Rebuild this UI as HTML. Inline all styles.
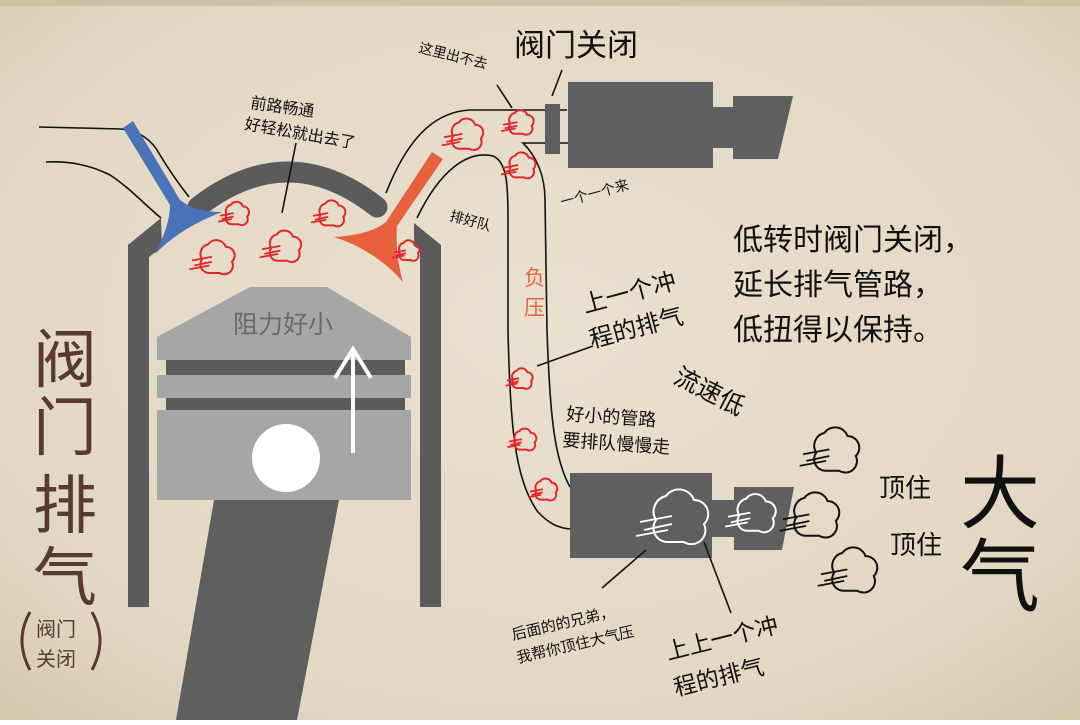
<!DOCTYPE html>
<html><head><meta charset="utf-8"><style>
html,body{margin:0;padding:0;}
body{width:1080px;height:720px;overflow:hidden;}
svg text{font-family:"Liberation Sans","Noto Sans CJK SC",sans-serif;}
</style></head><body>
<svg width="1080" height="720" viewBox="0 0 1080 720" xmlns="http://www.w3.org/2000/svg">
<defs>
<radialGradient id="bg" cx="50%" cy="45%" r="80%">
<stop offset="0" stop-color="#e9e0cf"/><stop offset="0.7" stop-color="#e2d7c2"/><stop offset="1" stop-color="#d3c3a7"/>
</radialGradient>
<symbol id="puff" viewBox="-20 -20 40 40" overflow="visible">
<path d="M-6 12 a7 7 0 0 1 -6 -11 a8 8 0 0 1 5 -12 a8 8 0 0 1 14 2 a7 7 0 0 1 5 12 a7 7 0 0 1 -10 9 z" fill="none" stroke="currentColor" stroke-width="2" vector-effect="non-scaling-stroke"/>
<path d="M-20 2 L-4 -1 M-18 6 L-4 3 M-22 9 L-6 6" stroke="currentColor" stroke-width="1.8" vector-effect="non-scaling-stroke"/>
</symbol>
</defs>
<rect width="1080" height="720" fill="url(#bg)"/>
<rect width="1080" height="6" fill="#c4b496" opacity="0.6"/>

<g fill="none" stroke="#111" stroke-width="1.6">
<path d="M39 127 L121 129 C140 131 152 140 160 155 C172 175 182 188 189 197"/>
<path d="M46 162 C70 161 90 165 110 175 C130 188 145 205 161 218"/>
<path d="M386 193 C405 145 430 112 470 110 L567 110"/>
<path d="M417 218 C440 170 468 150 493 156 C508 162 508 190 508 220 L508 330 C510 420 514 480 538 512 C550 525 560 528 570 529"/>
<path d="M568 143 L523 143 C536 156 545 175 545 200 L547 330 C550 420 555 460 570 487"/>
</g>

<g fill="#5b5b5b">
<polygon points="128,245 161,218 162,247 149,257 149,607 128,607"/>
<polygon points="414,223 441,245 441,607 420,607 420,250 414,246"/>
</g>
<path d="M198 207 Q288 137 377 207" fill="none" stroke="#5b5b5b" stroke-width="21" stroke-linecap="round"/>

<path d="M123 128 L133 121 L180 200 Q195 212 222 212 Q180 228 155 254 Q170 225 170 205 Z" fill="#4a72b8"/>
<path d="M432 152 L443 159 L397 226 Q395 255 403 282 Q375 250 334 237 Q370 235 386 222 Z" fill="#e8613f"/>

<polygon points="214,500 339,500 297,720 176,720" fill="#5f5f5f"/>
<g fill="#a6a6a6">
<polygon points="157,337 250,287 327,287 411,337 411,360 157,360"/>
<rect x="157" y="375" width="254" height="23"/>
<rect x="157" y="410" width="254" height="90"/>
</g>
<rect x="166" y="360" width="239" height="15" fill="#5b5b5b"/>
<rect x="166" y="398" width="239" height="12" fill="#5b5b5b"/>
<circle cx="286" cy="458" r="34" fill="#fff"/>
<g stroke="#fff" stroke-width="4" fill="none"><path d="M353 453 L353 349"/><path d="M335 378 L353 349 L371 378"/></g>
<text x="233" y="333" font-size="25" fill="#6a6a6a">阻力好小</text>

<g fill="#5f5f5f">
<rect x="545" y="104" width="15" height="50"/>
<rect x="568" y="82" width="145" height="86"/>
<rect x="712" y="107" width="22" height="41"/>
<polygon points="733,96 793,96 778,159 733,159"/>
<rect x="570" y="473" width="142" height="85"/>
<rect x="711" y="500" width="24" height="37"/>
<polygon points="734,487 794,487 782,550 734,550"/>
</g>

<g color="#e3262a">
<use href="#puff" x="220" y="197" width="34" height="34"/>
<use href="#puff" x="192" y="233" width="50" height="50"/>
<use href="#puff" x="262" y="224" width="46" height="46"/>
<use href="#puff" x="313" y="195" width="38" height="38"/>
<use href="#puff" x="394" y="236" width="30" height="30"/>
<use href="#puff" x="444" y="112" width="46" height="46"/>
<use href="#puff" x="503" y="105" width="36" height="36"/>
<use href="#puff" x="503" y="147" width="38" height="38"/>
<use href="#puff" x="507" y="364" width="30" height="30"/>
<use href="#puff" x="509" y="424" width="32" height="32"/>
<use href="#puff" x="530" y="474" width="32" height="32"/>
</g>
<g color="#fff">
<use href="#puff" x="640" y="478" width="80" height="80"/>
<use href="#puff" x="728" y="486" width="56" height="56"/>
</g>
<g color="#111">
<use href="#puff" x="803" y="418" width="66" height="66"/>
<use href="#puff" x="783" y="483" width="66" height="66"/>
<use href="#puff" x="821" y="538" width="66" height="66"/>
</g>

<g stroke="#111" stroke-width="1.6">
<line x1="296" y1="143" x2="282" y2="213"/>
<line x1="497" y1="85" x2="512" y2="108"/>
<line x1="562" y1="70" x2="552" y2="96"/>
<line x1="537" y1="366" x2="593" y2="346"/>
<line x1="646" y1="550" x2="602" y2="588"/>
<line x1="704" y1="542" x2="731" y2="613"/>
</g>

<g fill="#111">
<text x="514" y="56" font-size="31">阀门关闭</text>
<text x="418" y="52" font-size="14" transform="rotate(14 418 52)">这里出不去</text>
<text x="250" y="108" font-size="16" transform="rotate(8 250 108)">前路畅通</text>
<text x="244" y="129" font-size="16" transform="rotate(10 244 129)">好轻松就出去了</text>
<text x="449" y="220" font-size="14" transform="rotate(15 449 220)">排好队</text>
<text x="562" y="207" font-size="14" transform="rotate(-15 562 207)">一个一个来</text>
<text x="585" y="313" font-size="24" transform="rotate(-15 585 313)">上一个冲</text>
<text x="592" y="348" font-size="24" transform="rotate(-15 592 348)">程的排气</text>
<text x="672" y="382" font-size="25" transform="rotate(27 672 382)">流速低</text>
<text x="566" y="420" font-size="18" transform="rotate(4 566 420)">好小的管路</text>
<text x="562" y="446" font-size="18" transform="rotate(4 562 446)">要排队慢慢走</text>
<text x="733" y="250" font-size="30">低转时阀门关闭，</text>
<text x="733" y="295" font-size="30">延长排气管路，</text>
<text x="733" y="340" font-size="30">低扭得以保持。</text>
<text x="879" y="497" font-size="26">顶住</text>
<text x="890" y="554" font-size="26">顶住</text>
<text x="960" y="522" font-size="80">大</text>
<text x="960" y="605" font-size="80">气</text>
<text x="513" y="640" font-size="15" transform="rotate(-13 513 640)">后面的的兄弟，</text>
<text x="518" y="663" font-size="15" transform="rotate(-13 518 663)">我帮你顶住大气压</text>
<text x="668" y="660" font-size="23" transform="rotate(-14 668 660)">上上一个冲</text>
<text x="676" y="696" font-size="23" transform="rotate(-14 676 696)">程的排气</text>
</g>
<text x="524" y="285" font-size="21" fill="#e8613f">负</text>
<text x="524" y="315" font-size="21" fill="#e8613f">压</text>
<g fill="#5a3a30">
<text x="33" y="382" font-size="64">阀</text>
<text x="33" y="450" font-size="64">门</text>
<text x="33" y="528" font-size="64">排</text>
<text x="33" y="600" font-size="64">气</text>
<text x="36" y="636" font-size="20">阀门</text>
<text x="36" y="666" font-size="20">关闭</text>
</g>
<path d="M30 612 Q14 640 30 670" fill="none" stroke="#5a3a30" stroke-width="3"/>
<path d="M92 612 Q108 640 92 670" fill="none" stroke="#5a3a30" stroke-width="3"/>
</svg>
</body></html>
